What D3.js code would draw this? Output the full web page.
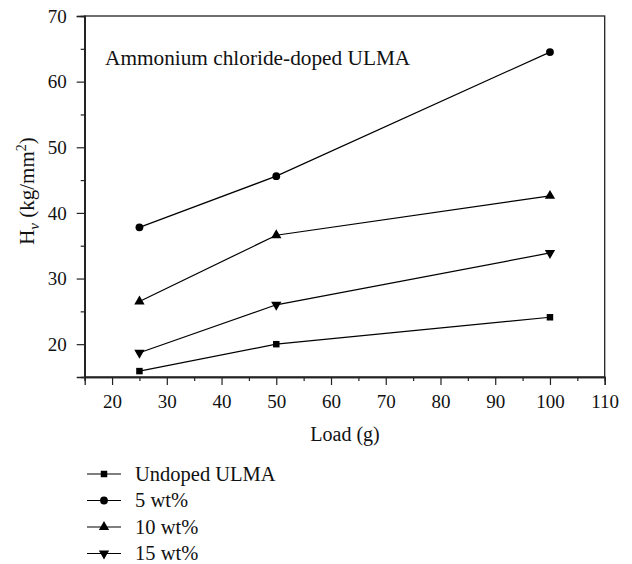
<!DOCTYPE html>
<html><head><meta charset="utf-8">
<script src="https://cdn.jsdelivr.net/npm/d3@7/dist/d3.min.js"></script>
<style>body{margin:0;background:#fff}svg{display:block}text{font-family:"Liberation Serif","DejaVu Serif",serif;fill:#111}</style>
</head><body>
<svg id="c" width="632" height="564"></svg>
<script>
const loads = [25, 50, 100];
const seriesNames = ["Undoped ULMA", "5 wt%", "10 wt%", "15 wt%"];
const undoped = [15.9, 20.0, 24.1];
const wt5 = [37.8, 45.6, 64.5];
const wt10 = [26.5, 36.6, 42.6];
const wt15 = [18.7, 26.0, 33.9];
const markerTypes = ["square", "circle", "triangleUp", "triangleDown"];
const xTicks = [20, 30, 40, 50, 60, 70, 80, 90, 100, 110];
const yTicks = [20, 30, 40, 50, 60, 70];
const xMinor = [15, 25, 35, 45, 55, 65, 75, 85, 95, 105];
const yMinor = [25, 35, 45, 55, 65];
const title = "Ammonium chloride-doped ULMA";

const allSeries = [undoped, wt5, wt10, wt15];
const svg = d3.select("#c");
const L = 84.7, R = 604.7, T = 16, B = 377;
const x = d3.scaleLinear().domain([15, 110]).range([L, R]);
const y = d3.scaleLinear().domain([15, 70]).range([B, T]);
const axisColor = "#222";
const serif = '"Liberation Serif","DejaVu Serif",serif';

// frame
svg.append("rect").attr("x", L).attr("y", T).attr("width", R - L).attr("height", B - T)
  .attr("fill", "none").attr("stroke", axisColor).attr("stroke-width", 1.3);

// axes
const gx = svg.append("g").attr("transform", `translate(0,${B})`)
  .call(d3.axisBottom(x).tickValues(xTicks).tickSize(8).tickPadding(10).tickFormat(d3.format("d")));
const gxm = svg.append("g").attr("transform", `translate(0,${B})`)
  .call(d3.axisBottom(x).tickValues(xMinor).tickSize(4).tickFormat(""));
const gy = svg.append("g").attr("transform", `translate(${L},0)`)
  .call(d3.axisLeft(y).tickValues(yTicks).tickSize(8).tickPadding(10).tickFormat(d3.format("d")));
const gym = svg.append("g").attr("transform", `translate(${L},0)`)
  .call(d3.axisLeft(y).tickValues(yMinor).tickSize(4).tickFormat(""));
[gx, gxm, gy, gym].forEach(g => {
  g.attr("font-family", serif).attr("font-size", 19);
  g.select(".domain").attr("stroke", axisColor).attr("stroke-width", 1.3);
  g.selectAll(".tick line").attr("stroke", axisColor).attr("stroke-width", 1.2);
  g.selectAll("text").attr("fill", "#111");
});

// lines and markers
const line = d3.line().x((d, i) => x(loads[i])).y(d => y(d));
const sym = {
  square: d3.symbol(d3.symbolSquare, 42),
  circle: d3.symbol(d3.symbolCircle, 48),
  triangleUp: d3.symbol(d3.symbolTriangle, 46),
  triangleDown: d3.symbol(d3.symbolTriangle, 46)
};
function marker(g, type, cx, cy) {
  g.append("path").attr("d", sym[type]())
    .attr("transform", `translate(${cx},${cy})` + (type === "triangleDown" ? " rotate(180)" : ""))
    .attr("fill", "#000");
}
allSeries.forEach((s, k) => {
  svg.append("path").datum(s).attr("d", line).attr("fill", "none")
    .attr("stroke", "#000").attr("stroke-width", 1.2);
  const g = svg.append("g");
  s.forEach((v, i) => marker(g, markerTypes[k], x(loads[i]), y(v)));
});

// title inside
svg.append("text").attr("x", 105).attr("y", 65).style("font-size", "21.3px").text(title);

// axis labels
svg.append("text").attr("x", 345).attr("y", 441).attr("text-anchor", "middle")
  .style("font-size", "20px").text("Load (g)");
const yl = svg.append("text").attr("transform", "translate(34,191) rotate(-90)")
  .attr("text-anchor", "middle").style("font-size", "21px");
yl.append("tspan").text("H");
yl.append("tspan").attr("dy", 5).style("font-size", "15px").style("font-style", "italic").text("ν");
yl.append("tspan").attr("dy", -5).text(" (kg/mm");
yl.append("tspan").attr("dy", -8).style("font-size", "14px").text("2");
yl.append("tspan").attr("dy", 8).text(")");

// legend
const legY = [474, 500.5, 527, 553.5];
seriesNames.forEach((n, k) => {
  const g = svg.append("g");
  g.append("line").attr("x1", 87).attr("x2", 121).attr("y1", legY[k]).attr("y2", legY[k])
    .attr("stroke", "#000").attr("stroke-width", 1.2);
  marker(g, markerTypes[k], 104, legY[k]);
  g.append("text").attr("x", 135).attr("y", legY[k]).attr("dy", "0.33em")
    .style("font-size", "20.5px").text(n);
});
</script>
</body></html>
